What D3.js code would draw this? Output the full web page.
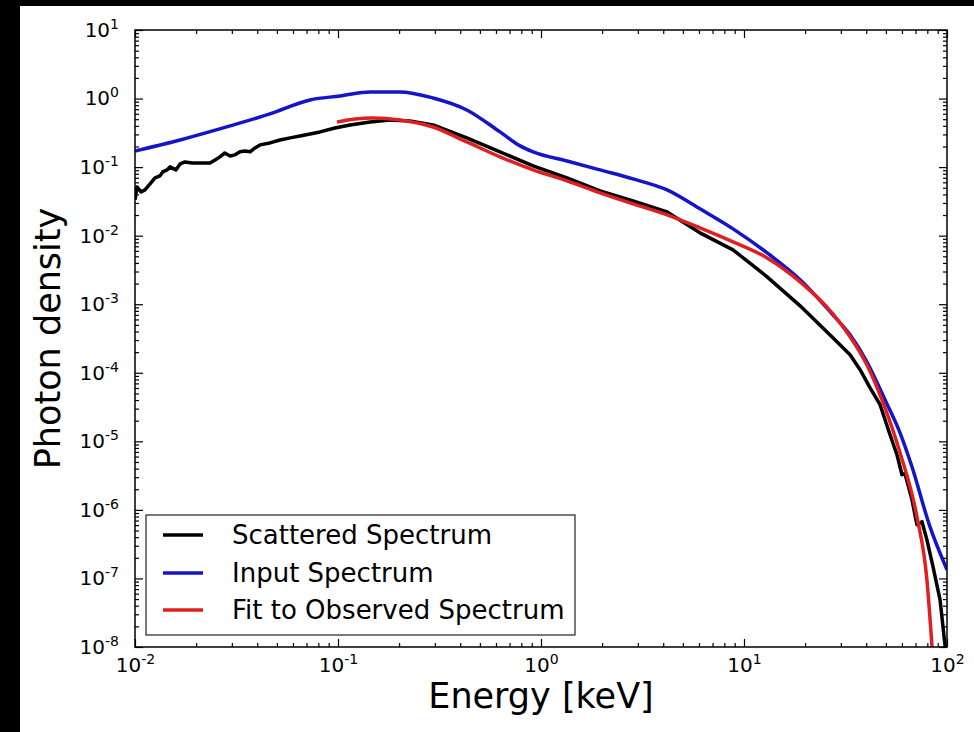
<!DOCTYPE html>
<html>
<head>
<meta charset="utf-8">
<script src="https://cdn.jsdelivr.net/npm/d3@7/dist/d3.min.js"></script>
<style>
html,body{margin:0;padding:0;background:#000;}
svg{display:block;}
svg text{font-family:"DejaVu Sans",sans-serif;}
</style>
</head>
<body>
<svg id="chart" width="974" height="732"></svg>
<script>
// ---- data ----
const seriesNames = ["Scattered Spectrum", "Input Spectrum", "Fit to Observed Spectrum"];
const seriesColors = ["#000000", "#1414c8", "#e02020"];

const scatteredE = [0.0100,0.01023,0.01071,0.0112,0.01186,0.01255,0.01328,0.0137,0.01438,0.01487,0.0159,0.01667,0.01762,0.0191,0.0209,0.0234,0.0248,0.0262,0.0277,0.0294,0.0311,0.0329,0.0348,0.0369,0.0390,0.0413,0.0462,0.0518,0.0581,0.0650,0.0728,0.0815,0.0966,0.1146,0.144,0.180,0.226,0.294,0.431,0.628,0.914,1.343,1.954,2.84,4.18,6.07,8.83,13.0,18.9,27.4,33.3,37.3,41.8,46.8,52.4,56.7,60.0,62.1,67.2,71.1,75.3,79.6,85.3,92.4,97.7,100];
const scatteredP = [0.0333,0.0514,0.0435,0.0465,0.0569,0.0697,0.0745,0.0851,0.091,0.1007,0.091,0.1114,0.119,0.115,0.115,0.115,0.127,0.141,0.161,0.1456,0.151,0.167,0.172,0.167,0.1905,0.211,0.2254,0.249,0.267,0.285,0.305,0.326,0.372,0.412,0.456,0.488,0.472,0.412,0.267,0.167,0.104,0.0697,0.045,0.0321,0.0222,0.0110,0.00621,0.00251,9.48e-4,3.24e-4,1.83e-4,1.11e-4,6.04e-5,3.42e-5,1.25e-5,6.38e-6,3.26e-6,3.37e-6,1.41e-6,6.08e-7,6.73e-7,3.68e-7,1.49e-7,4.91e-8,1.08e-8,6.5e-9];

const inputE = [0.0100,0.01667,0.0294,0.0462,0.0728,0.1023,0.144,0.2018,0.294,0.431,0.628,0.789,0.914,1.343,1.954,2.84,4.18,6.07,8.83,13.0,18.9,27.4,33.3,40.3,49.5,58.7,67.2,82.4,100];
const inputP = [0.172,0.249,0.399,0.597,0.955,1.09,1.25,1.25,1.02,0.682,0.326,0.204,0.167,0.123,0.091,0.0673,0.0465,0.0246,0.01256,0.00561,0.00227,7.0e-4,3.58e-4,1.45e-4,4.04e-5,1.33e-5,4.26e-6,5.69e-7,1.34e-7];

const fitE = [0.0989,0.1214,0.1486,0.2018,0.294,0.431,0.628,0.914,1.343,1.954,2.84,4.18,6.07,8.83,13.0,18.9,27.4,33.3,40.3,48.4,58.7,71.1,79.6,84.4];
const fitP = [0.456,0.504,0.521,0.488,0.385,0.233,0.141,0.091,0.063,0.0421,0.0291,0.0201,0.0130,0.00813,0.00474,0.00212,7.24e-4,3.35e-4,1.31e-4,3.66e-5,6.82e-6,7.96e-7,9.6e-8,1.0e-8];

const xDomain = [1e-2, 1e2];
const yDomain = [1e-8, 1e1];
const xLabel = "Energy [keV]";
const yLabel = "Photon density";

// ---- layout ----
const W = 974, H = 732;
const L = 135, R = 947, T = 30, B = 647;
const FONT = "DejaVu Sans, sans-serif";

const svg = d3.select("#chart");
svg.append("rect").attr("x",0).attr("y",0).attr("width",W).attr("height",H).attr("fill","#000");
svg.append("rect").attr("x",20).attr("y",6).attr("width",W-20).attr("height",H-6).attr("fill","#fff");

const x = d3.scaleLog().domain(xDomain).range([L, R]);
const y = d3.scaleLog().domain(yDomain).range([B, T]);

svg.append("defs").append("clipPath").attr("id","clip")
  .append("rect").attr("x",L).attr("y",T).attr("width",R-L).attr("height",B-T);

const series = [
  {E: scatteredE, P: scatteredP, curve: d3.curveLinear},
  {E: inputE, P: inputP, curve: d3.curveMonotoneX},
  {E: fitE, P: fitP, curve: d3.curveMonotoneX}
];

const gLines = svg.append("g").attr("clip-path","url(#clip)");
series.forEach((s, i) => {
  const pts = s.E.map((e, k) => [e, s.P[k]]);
  const line = d3.line().x(d => x(d[0])).y(d => y(d[1])).curve(s.curve);
  gLines.append("path").datum(pts)
    .attr("d", line)
    .attr("fill","none")
    .attr("stroke", seriesColors[i])
    .attr("stroke-width", 3.5)
    .attr("stroke-linejoin","round")
    .attr("stroke-linecap","butt");
});

// ---- ticks ----
function isMajor(v){ const l = Math.log10(v); return Math.abs(l - Math.round(l)) < 1e-9; }
const xAll = x.ticks(), yAll = y.ticks();
const xMajor = xAll.filter(isMajor), xMinor = xAll.filter(v => !isMajor(v));
const yMajor = yAll.filter(isMajor), yMinor = yAll.filter(v => !isMajor(v));

function styleAxis(g){
  g.attr("font-family", FONT);
  g.select(".domain").remove();
  g.selectAll("line").attr("stroke","#000").attr("stroke-width",1.2);
}
function supLabels(g){
  g.selectAll("text").each(function(d){
    const e = Math.round(Math.log10(d));
    const t = d3.select(this);
    t.text(null).attr("fill","#000").attr("font-size",20).attr("font-family",FONT);
    t.append("tspan").text("10");
    t.append("tspan").attr("font-size",14).attr("dy",-8).text(String(e));
  });
}

// bottom
svg.append("g").attr("transform",`translate(0,${B})`)
  .call(d3.axisBottom(x).tickValues(xMinor).tickSize(-4).tickFormat(""))
  .call(styleAxis);
svg.append("g").attr("transform",`translate(0,${B})`)
  .call(d3.axisBottom(x).tickValues(xMajor).tickSize(-8).tickPadding(11))
  .call(styleAxis).call(supLabels);
// top
svg.append("g").attr("transform",`translate(0,${T})`)
  .call(d3.axisTop(x).tickValues(xMinor).tickSize(-4).tickFormat(""))
  .call(styleAxis);
svg.append("g").attr("transform",`translate(0,${T})`)
  .call(d3.axisTop(x).tickValues(xMajor).tickSize(-8).tickFormat(""))
  .call(styleAxis);
// left
svg.append("g").attr("transform",`translate(${L},0)`)
  .call(d3.axisLeft(y).tickValues(yMinor).tickSize(-4).tickFormat(""))
  .call(styleAxis);
svg.append("g").attr("transform",`translate(${L},0)`)
  .call(d3.axisLeft(y).tickValues(yMajor).tickSize(-8).tickPadding(16))
  .call(styleAxis).call(supLabels);
// right
svg.append("g").attr("transform",`translate(${R},0)`)
  .call(d3.axisRight(y).tickValues(yMinor).tickSize(-4).tickFormat(""))
  .call(styleAxis);
svg.append("g").attr("transform",`translate(${R},0)`)
  .call(d3.axisRight(y).tickValues(yMajor).tickSize(-8).tickFormat(""))
  .call(styleAxis);

// frame
svg.append("rect").attr("x",L).attr("y",T).attr("width",R-L).attr("height",B-T)
  .attr("fill","none").attr("stroke","#000").attr("stroke-width",1.5);

// axis titles
svg.append("text").attr("x",(L+R)/2).attr("y",708).attr("text-anchor","middle")
  .attr("font-size",35).attr("fill","#000").attr("font-family",FONT).text(xLabel);
svg.append("text").attr("transform",`translate(60,${(T+B)/2}) rotate(-90)`)
  .attr("text-anchor","middle").attr("font-size",35).attr("fill","#000").attr("font-family",FONT).text(yLabel);

// legend
const lg = svg.append("g");
lg.append("rect").attr("x",146).attr("y",515).attr("width",429).attr("height",120)
  .attr("fill","#fff").attr("stroke","#222").attr("stroke-width",1.2);
const rowY = [535, 573, 610];
seriesNames.forEach((n, i) => {
  lg.append("line").attr("x1",163).attr("x2",203).attr("y1",rowY[i]).attr("y2",rowY[i])
    .attr("stroke",seriesColors[i]).attr("stroke-width",3.5);
  lg.append("text").attr("x",232).attr("y",rowY[i]).attr("dy","0.35em")
    .attr("font-size",26).attr("fill","#000").attr("font-family",FONT).text(n);
});
</script>
</body>
</html>
